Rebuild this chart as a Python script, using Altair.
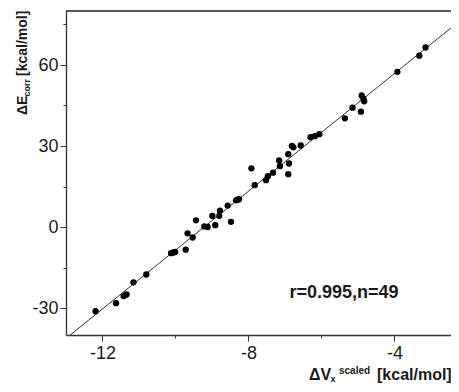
import altair as alt
import pandas as pd

# Data
dv_scaled = [-12.19, -11.63, -11.42, -11.34, -11.15, -10.80, -10.12, -10.06, -10.01, -9.72,
             -9.67, -9.53, -9.44, -9.21, -9.12, -8.99, -8.91, -8.80, -8.78, -8.57,
             -8.48, -8.34, -8.30, -8.26, -7.92, -7.83, -7.52, -7.47, -7.33, -7.16,
             -7.14, -6.91, -6.89, -6.91, -6.81, -6.77, -6.57, -6.30, -6.18, -6.06,
             -5.36, -5.15, -4.92, -4.90, -4.85, -4.83, -3.92, -3.32, -3.15]
de_corr = [-31.19, -28.22, -25.56, -25.00, -20.48, -17.59, -9.70, -9.44, -9.26, -8.41,
           -2.33, -3.89, 2.48, 0.22, 0.00, 4.07, 0.67, 4.15, 6.04, 7.93,
           1.93, 9.89, 10.10, 10.30, 21.74, 15.48, 17.33, 18.81, 20.11, 24.63,
           22.52, 19.56, 23.52, 26.96, 30.00, 29.52, 30.19, 33.26, 33.63, 34.37,
           40.26, 44.19, 42.70, 48.70, 47.52, 46.56, 57.48, 63.44, 66.48]
x_tick_values = [-12, -10, -8, -6, -4]
y_tick_values = [-30, -15, 0, 15, 30, 45, 60, 75]
x_domain = [-13, -2.452]
y_domain = [-40, 80]
stats_label = ["r=0.995,n=49"]

df = pd.DataFrame({"dv": dv_scaled, "de": de_corr})

W, H = 385, 324
FONT = "Liberation Sans"
INK = "#1a1a1a"

xscale = alt.Scale(domain=x_domain, nice=False, zero=False)
yscale = alt.Scale(domain=y_domain, nice=False, zero=False)

x_major = "(datum.value + 12) % 4 === 0"
y_major = "datum.value % 30 === 0"

xaxis = alt.Axis(
    values=x_tick_values, title=None, grid=False,
    labelExpr=f"{x_major} ? '' + datum.value : ''",
    tickSize={"condition": {"test": x_major, "value": 6}, "value": 3},
    labelFont=FONT, labelFontSize=18, labelColor=INK, labelPadding=3,
    domainColor="#333", domainWidth=1.3, tickColor="#333", tickWidth=1,
)
yaxis = alt.Axis(
    values=y_tick_values, title=None, grid=False,
    labelExpr=f"{y_major} ? '' + datum.value : ''",
    tickSize={"condition": {"test": y_major, "value": 6}, "value": 3},
    labelFont=FONT, labelFontSize=18, labelColor=INK, labelPadding=2,
    domainColor="#333", domainWidth=1.3, tickColor="#333", tickWidth=1,
)

base = alt.Chart(df)

points = base.mark_circle(size=40, color="black", opacity=1).encode(
    x=alt.X("dv:Q", scale=xscale, axis=xaxis),
    y=alt.Y("de:Q", scale=yscale, axis=yaxis),
)

fit = base.transform_regression("dv", "de", extent=x_domain).mark_line(
    color="#333", strokeWidth=1, clip=True
).encode(
    x=alt.X("dv:Q", scale=xscale),
    y=alt.Y("de:Q", scale=yscale),
)

top_border = alt.Chart(pd.DataFrame({"a": [0]})).mark_rule(
    color="#222", strokeWidth=1.5
).encode(x=alt.value(0), x2=alt.value(W), y=alt.value(0))


def txt(s, x, y, size, angle=0, align="left", baseline="alphabetic"):
    kw = dict(font=FONT, fontSize=size, fontWeight="bold", color=INK,
              align=align, baseline=baseline)
    if angle:
        kw["angle"] = angle
    return alt.Chart(pd.DataFrame({"t": [s]})).mark_text(**kw).encode(
        text="t:N", x=alt.value(x), y=alt.value(y))


stats = txt(stats_label[0], 278, 287, 18, align="center")

# x title: ΔV_x^scaled [kcal/mol]
xt1 = txt("ΔV", 243, 368.5, 16)
xt2 = txt("x", 264.5, 370.5, 9)
xt3 = txt("scaled", 273, 362.5, 10)
xt4 = txt("[kcal/mol]", 311, 368.5, 16)

# y title: ΔE_corr [kcal/mol], rotated
yx = -39
y0 = 104
yt1 = txt("ΔE", yx, y0, 14, angle=270)
yt2 = txt("corr", yx + 3, y0 - 18.5, 9, angle=270)
yt3 = txt("[kcal/mol]", yx, y0 - 39, 14, angle=270)

chart = alt.layer(
    fit, points, top_border, stats, xt1, xt2, xt3, xt4, yt1, yt2, yt3
).properties(
    width=W, height=H,
    autosize=alt.AutoSizeParams(type="none"),
    padding={"left": 58, "top": 3, "right": 0, "bottom": 49},
).configure_view(strokeWidth=0)

chart.save("out.html", embed_options={"renderer": "svg", "actions": False})
